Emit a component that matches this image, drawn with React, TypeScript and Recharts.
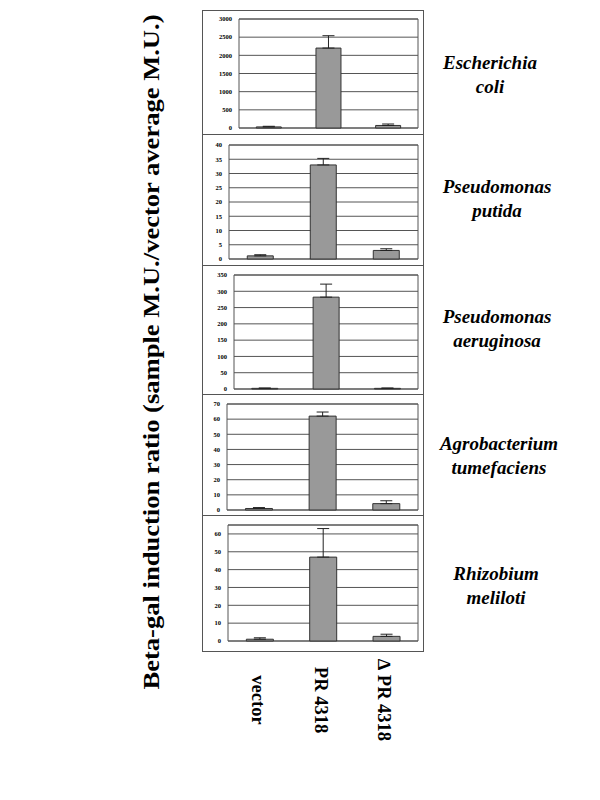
import React from 'react';
import { BarChart, Bar, XAxis, YAxis, CartesianGrid, ReferenceArea, ErrorBar } from 'recharts';

// categories (x axis, shared by all panels)
const categories = ['vector', 'PR 4318', '\u2206 PR 4318'];

// species names (two lines each)
const speciesNames = [
  ['Escherichia', 'coli'],
  ['Pseudomonas', 'putida'],
  ['Pseudomonas', 'aeruginosa'],
  ['Agrobacterium', 'tumefaciens'],
  ['Rhizobium', 'meliloti'],
];

// means and (upper) error values
const ecoliMean = [30, 2200, 70];
const ecoliErr = [17, 340, 40];
const putidaMean = [1.1, 33, 3];
const putidaErr = [0.4, 2.3, 0.6];
const aeruginosaMean = [2, 282, 2];
const aeruginosaErr = [1, 40, 1];
const tumefaciensMean = [1, 62, 4.2];
const tumefaciensErr = [0.6, 2.7, 1.9];
const melilotiMean = [1, 47, 2.6];
const melilotiErr = [0.8, 16, 1.2];

// y ticks per panel
const ecoliTicks = [0, 500, 1000, 1500, 2000, 2500, 3000];
const putidaTicks = [0, 5, 10, 15, 20, 25, 30, 35, 40];
const aeruginosaTicks = [0, 50, 100, 150, 200, 250, 300, 350];
const tumefaciensTicks = [0, 10, 20, 30, 40, 50, 60, 70];
const melilotiTicks = [0, 10, 20, 30, 40, 50, 60];

const panels = [
  { mean: ecoliMean, err: ecoliErr, ticks: ecoliTicks, max: 3000 },
  { mean: putidaMean, err: putidaErr, ticks: putidaTicks, max: 40 },
  { mean: aeruginosaMean, err: aeruginosaErr, ticks: aeruginosaTicks, max: 350 },
  { mean: tumefaciensMean, err: tumefaciensErr, ticks: tumefaciensTicks, max: 70 },
  { mean: melilotiMean, err: melilotiErr, ticks: melilotiTicks, max: 65 },
];

// layout (page pixels)
const FRAME_LEFT = 202;
const FRAME_RIGHT = 424;
const FRAME_W = FRAME_RIGHT - FRAME_LEFT;
const PLOT_RIGHT = 418;
const LABELS_BOTTOM = 760;
const layout = [
  { top: 10, bottom: 134, plotTop: 19, zero: 128, plotLeft: 239, labelX: 490, labelY: 69 },
  { top: 134, bottom: 265, plotTop: 145, zero: 259, plotLeft: 229, labelX: 497, labelY: 193 },
  { top: 265, bottom: 394, plotTop: 275, zero: 389, plotLeft: 234, labelX: 497, labelY: 323 },
  { top: 394, bottom: 515, plotTop: 404, zero: 510, plotLeft: 227, labelX: 499, labelY: 450 },
  { top: 515, bottom: 652, plotTop: 525, zero: 641, plotLeft: 228, labelX: 496, labelY: 580 },
];

const serif = '"Liberation Serif", "Times New Roman", serif';
const lineColor = '#555555';

const CategoryTick = (props: any) => {
  const { x, y, payload } = props;
  return (
    <text
      x={0}
      y={0}
      transform={`translate(${x - 2},${y + 59}) rotate(90)`}
      textAnchor="middle"
      dominantBaseline="central"
      fontFamily={serif}
      fontWeight="bold"
      fontSize={18.5}
      fill="#000"
    >
      {payload.value}
    </text>
  );
};

const Panel = ({ idx }: { idx: number }) => {
  const p = panels[idx];
  const L = layout[idx];
  const isLast = idx === panels.length - 1;
  const data = categories.map((c, i) => ({ name: c, value: p.mean[i], err: [0, p.err[i]] }));
  const height = (isLast ? LABELS_BOTTOM : L.bottom) - L.top;
  return (
    <div style={{ position: 'absolute', left: FRAME_LEFT, top: L.top }}>
      <BarChart
        width={FRAME_W}
        height={height}
        data={data}
        margin={{ top: L.plotTop - L.top, right: FRAME_RIGHT - PLOT_RIGHT, left: 0, bottom: isLast ? 0 : L.bottom - L.zero }}
        barCategoryGap="29%"
      >
        <CartesianGrid vertical={false} stroke={lineColor} />
        <XAxis
          dataKey="name"
          hide={!isLast}
          height={isLast ? LABELS_BOTTOM - L.zero : 0}
          axisLine={false}
          tickLine={false}
          tickSize={0}
          tickMargin={0}
          interval={0}
          tick={<CategoryTick />}
        />
        <YAxis
          width={L.plotLeft - FRAME_LEFT}
          domain={[0, p.max]}
          ticks={p.ticks}
          interval={0}
          axisLine={false}
          tickLine={false}
          tickSize={5}
          tickMargin={2}
          tick={{ fontSize: 6.5, fontWeight: 'bold', fontFamily: serif, fill: '#000' }}
        />
        <ReferenceArea y1={0} y2={p.max} fill="none" fillOpacity={0} stroke={lineColor} strokeWidth={1} />
        <Bar dataKey="value" fill="#999999" stroke="#333333" strokeWidth={1} isAnimationActive={false}>
          <ErrorBar dataKey="err" direction="y" width={6} stroke="#222" strokeWidth={1} isAnimationActive={false} />
        </Bar>
      </BarChart>
    </div>
  );
};

export default function App() {
  return (
    <div style={{ position: 'absolute', left: 0, top: 0, width: 600, height: 800, background: '#fff' }}>
      {panels.map((_, i) => (
        <Panel key={i} idx={i} />
      ))}

      {/* frame and panel dividers */}
      <div
        style={{
          position: 'absolute',
          left: FRAME_LEFT,
          top: layout[0].top,
          width: FRAME_W,
          height: layout[4].bottom - layout[0].top,
          border: `1px solid ${lineColor}`,
          boxSizing: 'border-box',
          pointerEvents: 'none',
        }}
      />
      {layout.slice(1).map((L, i) => (
        <div
          key={i}
          style={{ position: 'absolute', left: FRAME_LEFT, top: L.top, width: FRAME_W, height: 1, background: lineColor }}
        />
      ))}

      {/* y axis title + species labels */}
      <svg width={600} height={800} style={{ position: 'absolute', left: 0, top: 0, pointerEvents: 'none' }}>
        <text
          transform="translate(159,352) rotate(-90)"
          textAnchor="middle"
          fontFamily={serif}
          fontWeight="bold"
          fontSize={24}
          textLength={675}
          lengthAdjust="spacingAndGlyphs"
          fill="#000"
        >
          Beta-gal induction ratio (sample M.U./vector  average M.U.)
        </text>
        {speciesNames.map((names, i) => (
          <text
            key={i}
            x={layout[i].labelX}
            y={layout[i].labelY}
            textAnchor="middle"
            fontFamily={serif}
            fontWeight="bold"
            fontStyle="italic"
            fontSize={19}
            fill="#000"
          >
            <tspan x={layout[i].labelX} y={layout[i].labelY}>{names[0]}</tspan>
            <tspan x={layout[i].labelX} y={layout[i].labelY + 24}>{names[1]}</tspan>
          </text>
        ))}
      </svg>
    </div>
  );
}
